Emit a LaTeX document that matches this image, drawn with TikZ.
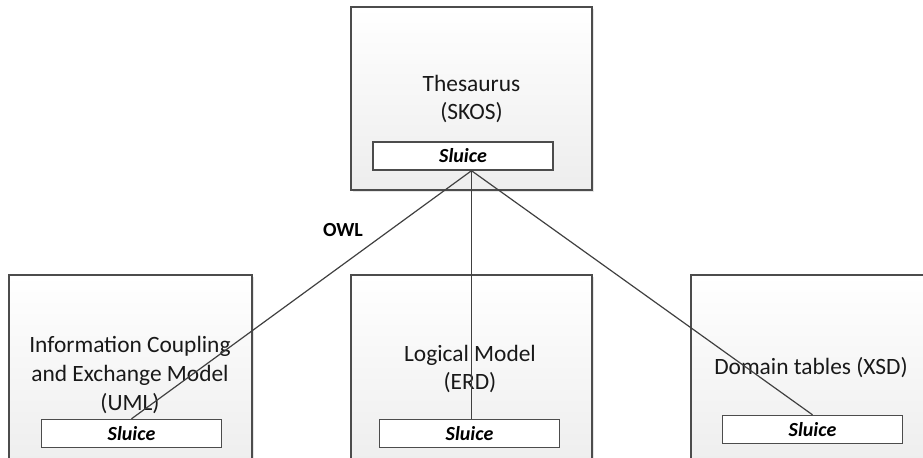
\documentclass[tikz,border=0pt]{standalone}
\usepackage{fontspec}
\setmainfont{Carlito}
\usetikzlibrary{shadows}

\begin{document}
\begin{tikzpicture}[x=0.5pt,y=-0.5pt,
	box/.style={draw=black!70,line width=0.7pt,rectangle,inner sep=0pt,top color=white,bottom color=black!7,drop shadow={shadow xshift=1pt,shadow yshift=-1pt,fill=black!20}},
	sluice/.style={draw=black!70,line width=0.7pt,fill=white,minimum width=90pt,minimum height=14pt,inner sep=0pt,font=\fontsize{10}{12}\selectfont\bfseries\itshape},
	label/.style={align=center,font=\fontsize{11.7}{14.3}\selectfont,text=black!90},
	link/.style={draw=black!75,line width=0.6pt}]
	\useasboundingbox (0,0) rectangle (923,457);
	\clip (0,0) rectangle (923,457);
	% thesaurus
	\node[box,minimum width=120.5pt,minimum height=91.5pt] (top) at (471.5,98.5) {};
	\node[label] (toptext) at (471.5,99) {Thesaurus\\(SKOS)};
	\node[sluice] (topsl) at (463,156) {Sluice};
	% models below
	\node[box,minimum width=121.5pt,minimum height=97.5pt] (uml) at (130.5,372.5) {};
	\node[box,minimum width=120.5pt,minimum height=97.5pt] (erd) at (471.5,372.5) {};
	\node[box,minimum width=121.5pt,minimum height=97.5pt] (xsd) at (812.5,372.5) {};
	\node[label] (umltext) at (130,375) {Information Coupling\\and Exchange Model\\(UML)};
	\node[label] (erdtext) at (470,369) {Logical Model\\(ERD)};
	\node[label] (xsdtext) at (811,368) {Domain tables (XSD)};
	\node[sluice] (umlsl) at (131.5,433.5) {Sluice};
	\node[sluice] (erdsl) at (469.5,433.5) {Sluice};
	\node[sluice] (xsdsl) at (812.5,429.5) {Sluice};
	% links
	\coordinate (hub) at (top.center |- topsl.south);
	\draw[link] (hub) -- (umlsl.north);
	\draw[link] (hub) -- (hub |- erdsl.north);
	\draw[link] (hub) -- (xsdsl.north);
	\node[font=\fontsize{10}{12}\selectfont\bfseries] (owl) at (343,230) {OWL};
\end{tikzpicture}
\end{document}
